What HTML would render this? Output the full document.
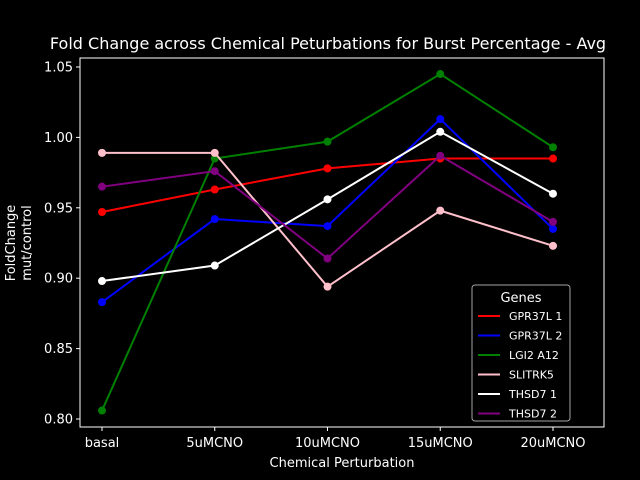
<!DOCTYPE html>
<html><head><meta charset="utf-8"><style>
body{margin:0;background:#000;}
svg{display:block;font-family:"DejaVu Sans","Liberation Sans",sans-serif;}
</style></head><body>
<svg id="chart" width="640" height="480">
<rect width="640" height="480" fill="#000"/>
<text x="328" y="49" fill="#fff" font-size="16" text-anchor="middle">Fold Change across Chemical Peturbations for Burst Percentage - Avg</text>
<rect x="80" y="58" width="524" height="369" fill="none" stroke="#fff" stroke-width="1"/>
<g id="axes"></g>
<g id="series"></g>
<text x="342" y="467" fill="#fff" font-size="13" text-anchor="middle">Chemical Perturbation</text>
<text transform="translate(15,243) rotate(-90)" fill="#fff" font-size="13" text-anchor="middle"><tspan x="0" dy="0">FoldChange</tspan><tspan x="0" dy="16">mut/control</tspan></text>
<g id="legend"></g>
</svg>
<script>
const categories=["basal","5uMCNO","10uMCNO","15uMCNO","20uMCNO"];
const seriesNames=["GPR37L 1","GPR37L 2","LGI2 A12","SLITRK5","THSD7 1","THSD7 2"];
const seriesColors=["red","blue","green","pink","white","purple"];
const gpr37l1=[0.947,0.963,0.978,0.985,0.985];
const gpr37l2=[0.883,0.942,0.937,1.013,0.935];
const lgi2=[0.806,0.985,0.997,1.045,0.993];
const slitrk5=[0.989,0.989,0.894,0.948,0.923];
const thsd71=[0.898,0.909,0.956,1.004,0.960];
const thsd72=[0.965,0.976,0.914,0.987,0.940];
const yTicks=[0.80,0.85,0.90,0.95,1.00,1.05];
const allSeries=[gpr37l1,gpr37l2,lgi2,slitrk5,thsd71,thsd72];
const NS="http://www.w3.org/2000/svg";
function X(i){return 102+i*(553-102)/(categories.length-1);}
function Y(v){return 419-(v-0.80)*(419-67)/0.25;}
function mk(t,a,p){const e=document.createElementNS(NS,t);for(const k in a)e.setAttribute(k,a[k]);p.appendChild(e);return e;}
const ax=document.getElementById('axes');
categories.forEach((c,i)=>{
 const l=mk('line',{x1:X(i),x2:X(i),y1:427,y2:431,stroke:'#fff'},ax);
 
 
 const t=mk('text',{x:X(i),y:447,fill:'#fff','font-size':13,'text-anchor':'middle'},ax);
 t.textContent=c;
 
 
});
yTicks.forEach(v=>{
 const l=mk('line',{x1:76,x2:80,y1:Y(v),y2:Y(v),stroke:'#fff'},ax);
 
 
 const t=mk('text',{x:73,y:Y(v)+4.5,fill:'#fff','font-size':13,'text-anchor':'end'},ax);
 t.textContent=v.toFixed(2);
 
 
});
const sg=document.getElementById('series');
allSeries.forEach((s,k)=>{
 const g=mk('g',{},sg);
 
 
 const pl=mk('polyline',{points:s.map((v,i)=>X(i)+','+Y(v)).join(' '),fill:'none',stroke:seriesColors[k],'stroke-width':2},g);
 
 
 s.forEach((v,i)=>{
  const c=mk('circle',{cx:X(i),cy:Y(v),r:4,fill:seriesColors[k]},g);
  
  
 });
});
const lg=document.getElementById('legend');
mk('rect',{x:472,y:285,width:98,height:136,rx:3,fill:'#000',stroke:'#ccc','stroke-opacity':0.8},lg);
const lt=mk('text',{x:521,y:302,fill:'#fff','font-size':13,'text-anchor':'middle'},lg);
lt.textContent='Genes';


seriesNames.forEach((n,k)=>{
 const y=316+k*19.5;
 const e=mk('g',{},lg);
 
 
 mk('line',{x1:478,x2:500,y1:y,y2:y,stroke:seriesColors[k],'stroke-width':2},e);
 const t=mk('text',{x:509,y:y+4,fill:'#fff','font-size':11},e);
 t.textContent=n;
});
</script>
</body></html>
